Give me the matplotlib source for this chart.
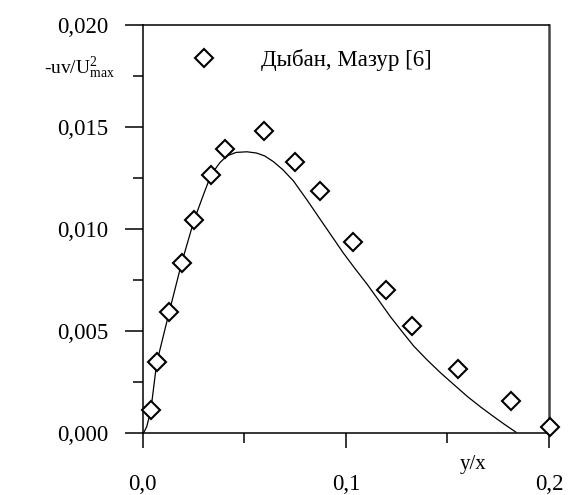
import matplotlib
matplotlib.use("Agg")
import matplotlib.pyplot as plt
from matplotlib.ticker import FixedLocator, FuncFormatter

plt.rcParams['font.family'] = ['Liberation Serif', 'DejaVu Serif']
plt.rcParams['mathtext.fontset'] = 'custom'
plt.rcParams['mathtext.rm'] = 'Liberation Serif'
plt.rcParams['mathtext.it'] = 'Liberation Serif:italic'

# Experimental data (Дыбан, Мазур [6])
exp_x = [0.0040, 0.0069, 0.0130, 0.0192, 0.0253, 0.0336, 0.0403, 0.0599, 0.0752,
         0.0872, 0.1035, 0.1196, 0.1328, 0.1550, 0.1813, 0.2005]
exp_y = [0.00111, 0.00345, 0.00591, 0.00834, 0.01043, 0.01264, 0.01392, 0.01480,
         0.01330, 0.01186, 0.00934, 0.00700, 0.00525, 0.00311, 0.00155, 0.00029]

# Calculated curve
calc_x = [0.0005, 0.0020, 0.0040, 0.0069, 0.0130, 0.0192, 0.0253, 0.0300, 0.0336,
          0.0380, 0.0415, 0.0460, 0.0513, 0.0560, 0.0600, 0.0643, 0.0690, 0.0742,
          0.0810, 0.0875, 0.0935, 0.0988, 0.1045, 0.1105, 0.1165, 0.1220, 0.1280,
          0.1334, 0.1400, 0.1467, 0.1535, 0.1599, 0.1665, 0.1729, 0.1785, 0.1837]
calc_y = [0.0000, 0.0003, 0.0011, 0.00343, 0.0059, 0.00834, 0.01043, 0.01170, 0.01264,
          0.01325, 0.01358, 0.01375, 0.01378, 0.01372, 0.01358, 0.01330, 0.01290, 0.01235,
          0.01140, 0.01045, 0.00958, 0.00881, 0.00805, 0.00728, 0.00645, 0.00568, 0.00492,
          0.00425, 0.00357, 0.00293, 0.00233, 0.00177, 0.00125, 0.00078, 0.00038, 0.00003]

y_major = [0.000, 0.005, 0.010, 0.015, 0.020]
y_minor = [0.0025, 0.0075, 0.0125, 0.0175]
x_major = [0.0, 0.1, 0.2]
x_minor = [0.05, 0.15]

fig = plt.figure(figsize=(5.69, 4.95), dpi=100)
ax = fig.add_axes([142.7/569, 1-432.7/495, (549-142.7)/569, (432.7-25)/495])

ax.plot(calc_x, calc_y, color='black', lw=0.9)
ax.plot(exp_x, exp_y, linestyle='none', marker='D', ms=9, mfc='white', mec='black',
        mew=1.5, label='Дыбан, Мазур [6]', clip_on=False, zorder=3)

ax.set_xlim(0, 0.2)
ax.set_ylim(0, 0.02)

ax.xaxis.set_major_locator(FixedLocator(x_major))
ax.xaxis.set_minor_locator(FixedLocator(x_minor))
ax.yaxis.set_major_locator(FixedLocator(y_major))
ax.yaxis.set_minor_locator(FixedLocator(y_minor))
ax.xaxis.set_major_formatter(FuncFormatter(lambda v, p: f"{v:.1f}".replace('.', ',')))
ax.yaxis.set_major_formatter(FuncFormatter(lambda v, p: f"{v:.3f}".replace('.', ',')))

ax.tick_params(axis='y', which='major', direction='out', length=13, width=1.1,
               pad=12, labelsize=16.5)
ax.tick_params(axis='y', which='minor', direction='out', length=7, width=1.1)
ax.tick_params(axis='x', which='major', direction='out', length=11, width=1.1,
               pad=19, labelsize=16.5)
ax.tick_params(axis='x', which='minor', direction='out', length=7, width=1.1)

for s in ['left', 'bottom', 'top']:
    ax.spines[s].set_linewidth(1.1)
ax.spines['right'].set_linewidth(1.8)
ax.spines['right'].set_color('#444444')

# Axis labels
fig.text(115/569, 1-68/495, r'-uv/U$^{2}_{\mathrm{max}}$', ha='right', va='center',
         fontsize=14)
fig.text(473/569, 1-465/495, 'y/x', ha='center', va='center', fontsize=15)

leg = ax.legend(loc='center left', bbox_to_anchor=(183/569, 1-60/495),
                bbox_transform=fig.transFigure, frameon=False, numpoints=1,
                handlelength=1.0, handletextpad=2.0, borderaxespad=0,
                fontsize=16.5)

fig.savefig('out.png', dpi=100)
